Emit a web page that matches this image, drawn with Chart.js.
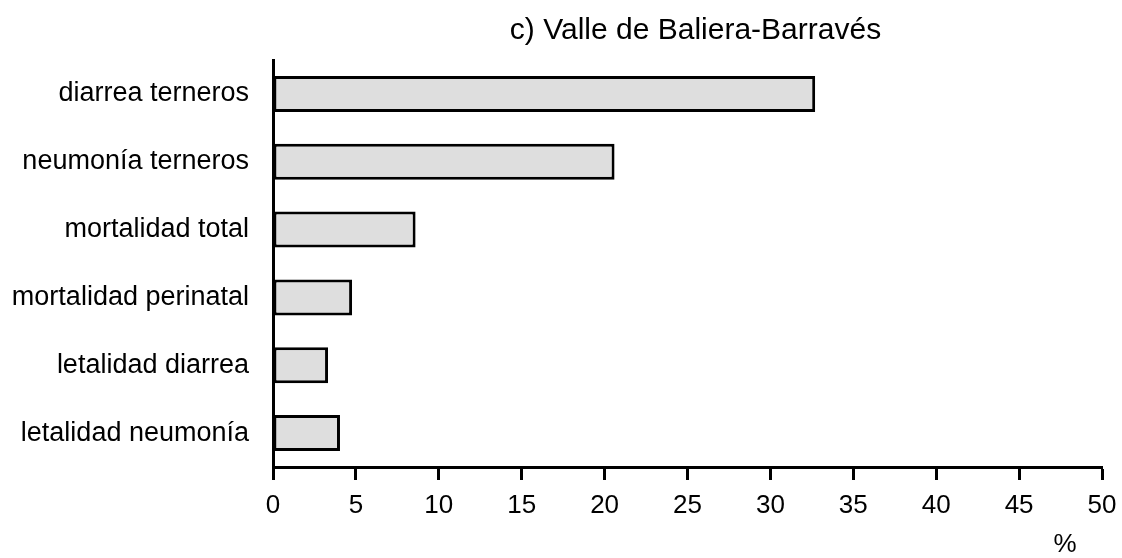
<!DOCTYPE html>
<html>
<head>
<meta charset="utf-8">
<script src="https://cdn.jsdelivr.net/npm/chart.js@4.4.0/dist/chart.umd.min.js"></script>
<style>
  html, body { margin: 0; padding: 0; background: #fff; }
  #wrap { width: 1122px; height: 558px; }
</style>
</head>
<body>
<div id="wrap"><canvas id="barchart" width="1122" height="558"></canvas></div>
<script>
const categories = ['diarrea terneros', 'neumonía terneros', 'mortalidad total', 'mortalidad perinatal', 'letalidad diarrea', 'letalidad neumonía'];
const values = [32.7, 20.6, 8.6, 4.77, 3.32, 4.04];
const xTicks = [0, 5, 10, 15, 20, 25, 30, 35, 40, 45, 50];
const chartTitle = 'c) Valle de Baliera-Barravés';
const unitLabel = '%';

const FONT = '"Liberation Sans", Arial, Helvetica, sans-serif';

// title above the plot area and the % unit under the axis
const extraText = {
  id: 'extraText',
  afterDraw(chart) {
    const c = chart.ctx;
    const area = chart.chartArea;
    c.save();
    c.fillStyle = '#000';
    c.font = '30px ' + FONT;
    c.textAlign = 'center';
    c.textBaseline = 'middle';
    c.fillText(chartTitle, (area.left + area.right) / 2 + 8, 31);
    c.font = '26px ' + FONT;
    c.fillText(unitLabel, 1065, 545);
    c.restore();
  }
};

const ctx = document.getElementById('barchart').getContext('2d');
const barchart = new Chart(ctx, {
  type: 'bar',
  data: {
    labels: categories,
    datasets: [{
      data: values,
      backgroundColor: '#dedede',
      borderColor: '#000',
      borderWidth: 3,
      borderSkipped: false,
      categoryPercentage: 1,
      barPercentage: 0.53
    }]
  },
  options: {
    responsive: false,
    animation: false,
    indexAxis: 'y',
    layout: { padding: { top: 60, right: 20, bottom: 0, left: 0 } },
    plugins: {
      legend: { display: false },
      title: { display: false },
      tooltip: { enabled: false }
    },
    scales: {
      x: {
        min: 0,
        max: 50,
        afterBuildTicks(scale) {
          scale.ticks = xTicks.map(v => ({ value: v }));
        },
        afterFit(scale) {
          scale.height = 91;
          scale.paddingLeft = 0;
          scale.paddingRight = 0;
        },
        grid: {
          drawOnChartArea: false,
          drawTicks: true,
          tickLength: 13,
          tickColor: '#000',
          tickWidth: 3
        },
        border: { display: true, color: '#000', width: 3 },
        ticks: {
          color: '#000',
          font: { family: FONT, size: 26 },
          padding: 10,
          maxRotation: 0
        }
      },
      y: {
        afterFit(scale) { scale.width = 273; },
        grid: { drawOnChartArea: false, drawTicks: false },
        border: { display: true, color: '#000', width: 3 },
        ticks: {
          color: '#000',
          font: { family: FONT, size: 27 },
          padding: 24
        }
      }
    }
  },
  plugins: [extraText]
});
</script>
</body>
</html>
